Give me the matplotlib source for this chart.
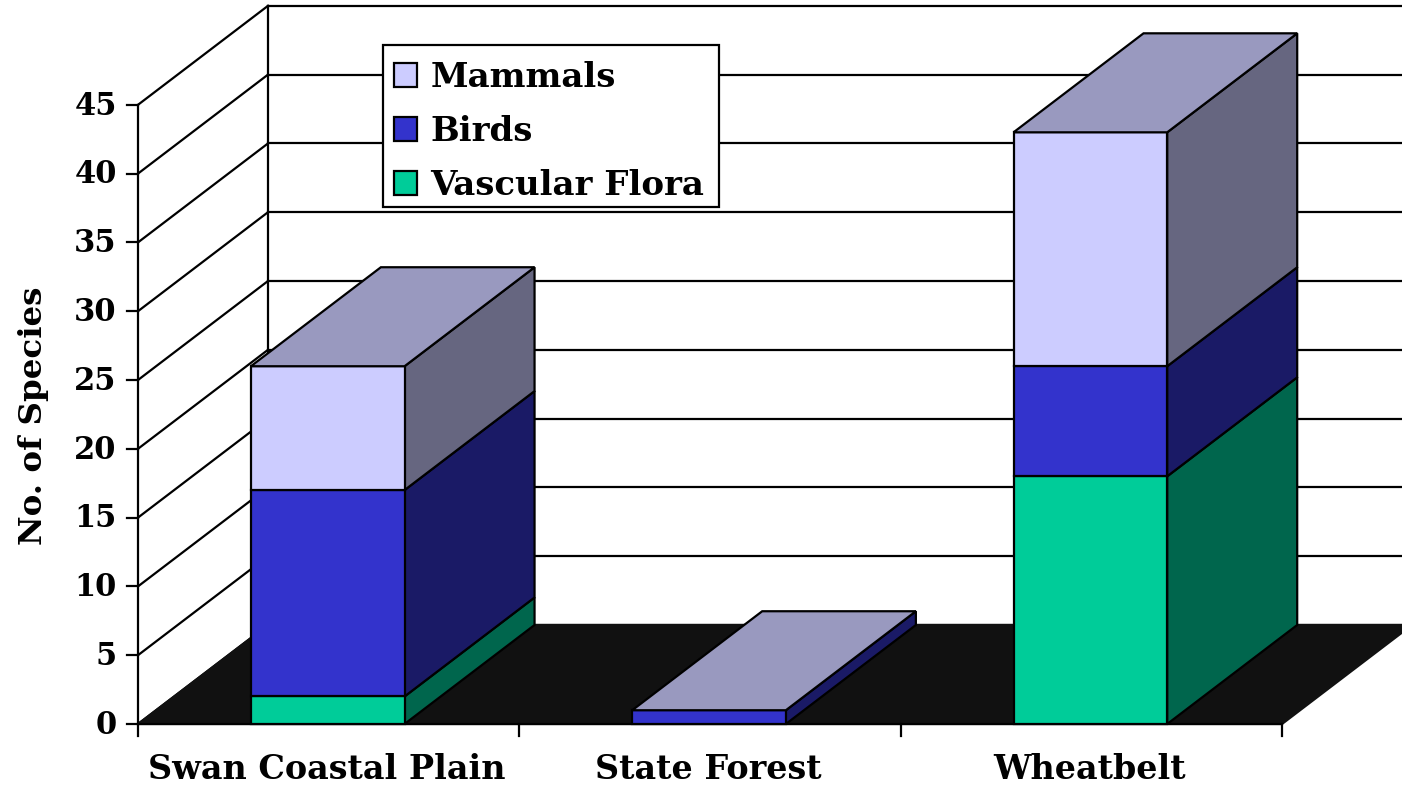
import matplotlib
matplotlib.use("Agg")
import matplotlib.pyplot as plt
from matplotlib.patches import Patch, Polygon, Rectangle

categories = ["Swan Coastal Plain", "State Forest", "Wheatbelt"]
series_names = ["Vascular Flora", "Birds", "Mammals"]
vascular_flora = [2, 0, 18]
birds = [15, 1, 8]
mammals = [9, 0, 17]
y_ticks = [0, 5, 10, 15, 20, 25, 30, 35, 40, 45]

front_colors = ["#00CC99", "#3333CC", "#CCCCFF"]
side_colors = ["#00664D", "#1A1A66", "#666680"]
top_color = "#9999BF"

# pixel scale of the picture
px_x = 381.33
px_y = 13.76
dx = 130 / px_x
dy = 99 / px_y
bar_w = 0.403

plt.rcParams["font.family"] = ["DejaVu Serif"]
plt.rcParams["font.weight"] = "bold"

fig = plt.figure(figsize=(14.02, 7.86), dpi=100)
ax = fig.add_axes([0, 0, 1, 1])
ax.set_xlim(-138 / px_x, (1402 - 138) / px_x)
ax.set_ylim(-62 / px_y, 724 / px_y)
ax.axis("off")

n = len(categories)
lw = 1.6


def poly(points, color, z=3):
    ax.add_patch(Polygon(points, closed=True, facecolor=color, edgecolor="black", lw=lw, zorder=z, joinstyle="miter"))


# floor
ax.add_patch(Polygon([(0, 0), (dx, dy), (n + dx, dy), (n, 0)], closed=True, facecolor="#111111", edgecolor="#111111", lw=lw, zorder=2))

# walls
top = y_ticks[-1]
ax.plot([0, 0], [0, top], color="black", lw=lw, zorder=1)
ax.plot([dx, dx], [dy, top + dy], color="black", lw=lw, zorder=1)
for t in y_ticks:
    ax.plot([0, dx], [t, t + dy], color="black", lw=lw, zorder=1)
    ax.plot([dx, n + dx], [t + dy, t + dy], color="black", lw=lw, zorder=1)
    ax.plot([-0.029, 0], [t, t], color="black", lw=lw, zorder=1)
    ax.text(-0.056, t - 0.1, str(t), ha="right", va="center", fontsize=22)

# x axis
ax.plot([0, n], [0, 0], color="black", lw=lw, zorder=3)
for i in range(n + 1):
    ax.plot([i, i], [0, -0.87], color="black", lw=lw, zorder=3)
for i, name in enumerate(categories):
    ax.text(i + 0.496, -3.3, name, ha="center", va="center", fontsize=24)

ax.text(33 / px_x - 138 / px_x, 22.4, "No. of Species", rotation=90, ha="center", va="center", fontsize=23.4)

# bars
for i in range(n):
    x0 = i + 0.4975 - bar_w / 2
    x1 = x0 + bar_w
    base = 0
    for vals, fc, sc in zip([vascular_flora, birds, mammals], front_colors, side_colors):
        v = vals[i]
        if v == 0:
            continue
        poly([(x1, base), (x1 + dx, base + dy), (x1 + dx, base + v + dy), (x1, base + v)], sc)
        poly([(x0, base), (x1, base), (x1, base + v), (x0, base + v)], fc)
        base += v
    poly([(x0, base), (x1, base), (x1 + dx, base + dy), (x0 + dx, base + dy)], top_color)

# legend box, drawn separately so its height can match
fig.add_artist(Rectangle((383 / 1402, 1 - 207 / 786), 336 / 1402, 162 / 786, transform=fig.transFigure,
                         facecolor="white", edgecolor="black", lw=lw, zorder=9))

handles = [Patch(facecolor=c, edgecolor="black", lw=lw) for c in front_colors[::-1]]
leg = ax.legend(handles, series_names[::-1], loc="upper left",
                bbox_to_anchor=(383 / 1402, 1 - 49.6 / 786), fontsize=24.5,
                frameon=False,
                handlelength=0.68, handleheight=0.68, handletextpad=0.38,
                labelspacing=0.62, borderpad=0.33, borderaxespad=0)
fig.add_artist(leg)
leg.set_zorder(10)

fig.savefig("out.png", dpi=100)
